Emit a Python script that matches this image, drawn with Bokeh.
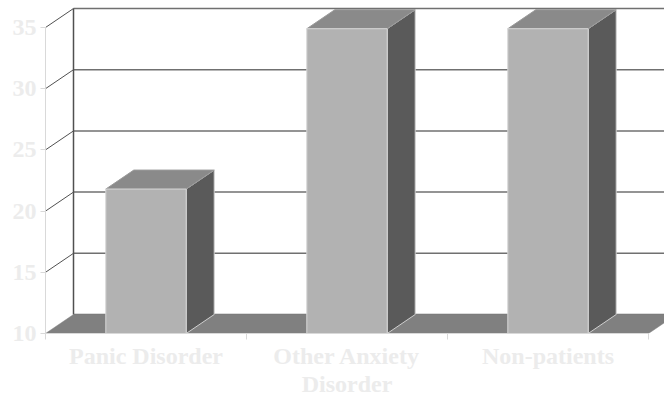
from bokeh.plotting import figure
from bokeh.models import Range1d, FixedTicker, LinearAxis
from bokeh.embed import file_html
from bokeh.resources import INLINE

# ---- data ----
categories = ["Panic Disorder", "Other Anxiety\nDisorder", "Non-patients"]
values = [21.8, 34.9, 34.9]
y_ticks = [10, 15, 20, 25, 30, 35]

# ---- layout / 3-D geometry (pixels -> data units) ----
FW, FH = 619, 333
PX_X = 201.0            # pixels per category
PX_Y = 12.24            # pixels per value unit
X0, X1 = 0.0, FW / PX_X
Y0, Y1 = y_ticks[0], y_ticks[0] + FH / PX_Y
DX, DY = 28 / PX_X, 19 / PX_Y   # depth offset
BW = 0.2                         # half bar width
N = len(categories)
base = y_ticks[0]

p = figure(frame_width=FW, frame_height=FH,
           x_range=Range1d(X0, X1), y_range=Range1d(Y0, Y1),
           output_backend="svg", toolbar_location=None,
           x_axis_type=None, y_axis_type=None,
           min_border_left=45, min_border_right=0, min_border_top=0, min_border_bottom=65)
p.outline_line_color = None
p.background_fill_color = "white"
p.border_fill_color = "white"
p.xgrid.visible = False
p.ygrid.visible = False

# back wall grid lines
p.segment(x0=[DX] * len(y_ticks), y0=[t + DY for t in y_ticks],
          x1=[X1 + 1] * len(y_ticks), y1=[t + DY for t in y_ticks],
          line_color="#707070", line_width=1.5)
# back wall left edge
p.segment(x0=[DX], y0=[base + DY], x1=[DX], y1=[y_ticks[-1] + DY],
          line_color="#505050", line_width=1.5)
# side wall diagonals
p.segment(x0=[X0] * (len(y_ticks) - 1), y0=y_ticks[1:],
          x1=[X0 + DX] * (len(y_ticks) - 1), y1=[t + DY for t in y_ticks[1:]],
          line_color="#505050", line_width=1)

# floor
p.patch(x=[X0, N, N + DX, X0 + DX], y=[base, base, base + DY, base + DY],
        fill_color="#808080", line_color="#808080", line_width=0.5)

# bars
for i, v in enumerate(values):
    c = i + 0.5
    xa, xb = c - BW, c + BW
    # side
    p.patch(x=[xb, xb, xb + DX, xb + DX], y=[base, v, v + DY, base + DY],
            fill_color="#5a5a5a", line_color="#cfcfcf", line_width=1)
    # top
    p.patch(x=[xa, xb, xb + DX, xa + DX], y=[v, v, v + DY, v + DY],
            fill_color="#8a8a8a", line_color="#9a9a9a", line_width=1)
    # front
    p.patch(x=[xa, xb, xb, xa], y=[base, base, v, v],
            fill_color="#b2b2b2", line_color="#d6d6d6", line_width=1)

LABEL_COLOR = "#ececec"
FONT = "Liberation Serif"

yaxis = LinearAxis(ticker=FixedTicker(ticks=y_ticks), bounds=(y_ticks[0], y_ticks[-1]))
yaxis.axis_line_color = "#d9d9d9"
yaxis.major_tick_line_color = "#d9d9d9"
yaxis.major_tick_out = 5
yaxis.major_tick_in = 0
yaxis.minor_tick_line_color = None
yaxis.major_label_standoff = 4
yaxis.major_label_text_color = LABEL_COLOR
yaxis.major_label_text_font = FONT
yaxis.major_label_text_font_style = "bold"
yaxis.major_label_text_font_size = "24px"
p.add_layout(yaxis, "left")

xaxis = LinearAxis(ticker=FixedTicker(ticks=[i + 0.5 for i in range(N)],
                                      minor_ticks=list(range(N + 1))),
                   bounds=(0, N))
xaxis.major_label_overrides = {i + 0.5: lab for i, lab in enumerate(categories)}
xaxis.axis_line_color = "#d9d9d9"
xaxis.major_tick_line_color = None
xaxis.major_tick_out = 0
xaxis.major_tick_in = 0
xaxis.minor_tick_line_color = "#d9d9d9"
xaxis.minor_tick_out = 6
xaxis.minor_tick_in = 0
xaxis.major_label_standoff = 3
xaxis.major_label_text_color = LABEL_COLOR
xaxis.major_label_text_font = FONT
xaxis.major_label_text_font_style = "bold"
xaxis.major_label_text_font_size = "24px"
xaxis.major_label_text_line_height = 1.1
p.add_layout(xaxis, "below")

open("out.html", "w").write(file_html(p, INLINE))
